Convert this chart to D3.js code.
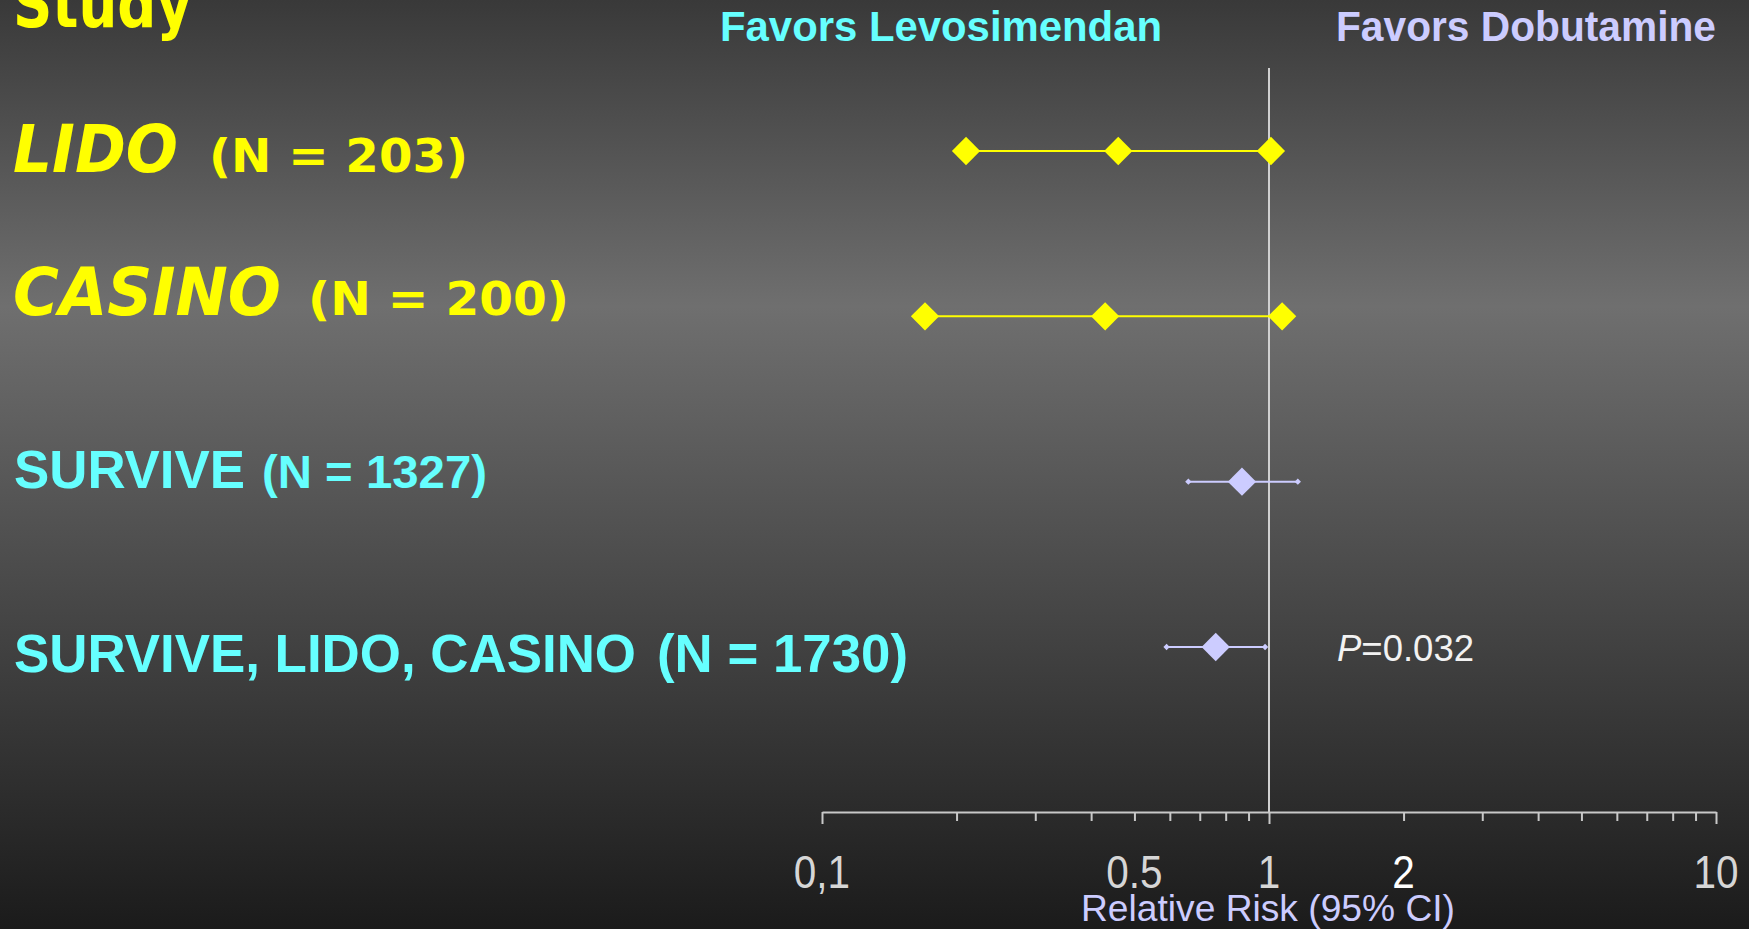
<!DOCTYPE html>
<html>
<head>
<meta charset="utf-8">
<script src="https://cdn.jsdelivr.net/npm/d3@7/dist/d3.min.js"></script>
<style>
  html, body { margin: 0; padding: 0; background: #1b1b1b; }
  svg { display: block; }
</style>
</head>
<body>
<script>
// ---- Data ----------------------------------------------------------
const studies      = ["LIDO", "CASINO", "SURVIVE", "SURVIVE, LIDO, CASINO"];
const sampleSizes  = [203, 200, 1327, 1730];
const studyKind    = ["trial", "trial", "pooled", "pooled"];
const riskPoint    = [0.46, 0.43, 0.87, 0.76];
const riskLower    = [0.21, 0.17, 0.66, 0.59];
const riskUpper    = [1.01, 1.07, 1.16, 0.98];
const pValueText   = "0.032";

const axisTickValues  = [0.1, 0.2, 0.3, 0.4, 0.5, 0.6, 0.7, 0.8, 0.9, 1, 2, 3, 4, 5, 6, 7, 8, 9, 10];
const majorTickValues = [0.1, 1, 10];
const tickLabelValues = [0.1, 0.5, 1, 2, 10];
const tickLabels      = ["0,1", "0.5", "1", "2", "10"];

// ---- Layout --------------------------------------------------------
const W = 1749, H = 929;
const axisY = 812, refLineTop = 68;
const YELLOW = "#ffff00", CYAN = "#66ffff", LAVENDER = "#ccccff";

const svg = d3.select("body").append("svg")
  .attr("width", W).attr("height", H);

// background: dark / light / dark vertical gradient
const defs = svg.append("defs");
const grad = defs.append("linearGradient")
  .attr("id", "bg").attr("x1", 0).attr("y1", 0).attr("x2", 0).attr("y2", 1);
[[0, "#393939"], [0.33, "#6f6f6f"], [1, "#1b1b1b"]].forEach(([o, c]) =>
  grad.append("stop").attr("offset", o).attr("stop-color", c));
svg.append("rect").attr("width", W).attr("height", H).attr("fill", "url(#bg)");

const x = d3.scaleLog().domain([0.1, 10]).range([822, 1716]);
const y = d3.scalePoint().domain(studies).range([151, 647]);

// ---- Headers -------------------------------------------------------
const comic = "'Comic Sans MS', 'DejaVu Sans', sans-serif";
const arial = "Arial, 'Liberation Sans', sans-serif";

svg.append("text")
  .attr("x", 13).attr("y", 27)
  .attr("font-family", comic).attr("font-weight", "bold").attr("font-size", 66)
  .attr("textLength", 179).attr("lengthAdjust", "spacingAndGlyphs")
  .attr("fill", YELLOW).text("Study");

svg.append("text")
  .attr("x", 720).attr("y", 41)
  .attr("font-family", arial).attr("font-weight", "bold").attr("font-size", 42)
  .attr("textLength", 442).attr("lengthAdjust", "spacingAndGlyphs")
  .attr("fill", CYAN).text("Favors Levosimendan");

svg.append("text")
  .attr("x", 1336).attr("y", 41)
  .attr("font-family", arial).attr("font-weight", "bold").attr("font-size", 42)
  .attr("textLength", 380).attr("lengthAdjust", "spacingAndGlyphs")
  .attr("fill", LAVENDER).text("Favors Dobutamine");

// ---- Study labels ---------------------------------------------------
const labelLayout = [
  { base: 172, nameX: 13, nameW: 165, nameSize: 66, nX: 209, nW: 259, nSize: 47 },
  { base: 315, nameX: 13, nameW: 268, nameSize: 66, nX: 308, nW: 261, nSize: 47 },
  { base: 488, nameX: 14, nameW: 231, nameSize: 53, nX: 262, nW: 225, nSize: 47 },
  { base: 672, nameX: 14, nameW: 622, nameSize: 53, nX: 657, nW: 251, nSize: 53 }
];

studies.forEach((s, i) => {
  const L = labelLayout[i];
  const isTrial = studyKind[i] === "trial";
  const g = svg.append("g").attr("fill", isTrial ? YELLOW : CYAN)
    .attr("font-weight", "bold")
    .attr("font-family", isTrial ? comic : arial);
  g.append("text")
    .attr("x", L.nameX).attr("y", L.base)
    .attr("font-size", L.nameSize)
    .attr("font-style", isTrial ? "italic" : "normal")
    .attr("textLength", L.nameW).attr("lengthAdjust", "spacingAndGlyphs")
    .text(s);
  g.append("text")
    .attr("x", L.nX).attr("y", L.base)
    .attr("font-size", L.nSize)
    .attr("textLength", L.nW).attr("lengthAdjust", "spacingAndGlyphs")
    .text(`(N = ${sampleSizes[i]})`);
});

// ---- Reference line at RR = 1 ----------------------------------------
svg.append("line")
  .attr("x1", x(1)).attr("x2", x(1))
  .attr("y1", refLineTop).attr("y2", axisY)
  .attr("stroke", "#d0d0d0").attr("stroke-width", 2);

// ---- Axis ----------------------------------------------------------
const axisG = svg.append("g")
  .attr("transform", `translate(0,${axisY})`)
  .call(d3.axisBottom(x).tickValues(axisTickValues)
    .tickSize(9).tickSizeOuter(0).tickFormat(""));
axisG.select(".domain").attr("stroke", "#c8c8c8").attr("stroke-width", 2);
axisG.selectAll(".tick line")
  .attr("stroke", "#c8c8c8").attr("stroke-width", 2)
  .attr("y2", d => majorTickValues.includes(d) ? 12 : 9);

// tick labels: slightly condensed, tall sans digits
svg.append("g").selectAll("text")
  .data(tickLabelValues)
  .join("text")
  .attr("transform", d => `translate(${x(d)},888) scale(0.88,1)`)
  .attr("text-anchor", "middle")
  .attr("font-family", arial).attr("font-size", 46)
  .attr("fill", d => d === 2 ? "#ffffff" : "#d6d6d6")
  .text((d, i) => tickLabels[i]);

svg.append("text")
  .attr("x", 1081).attr("y", 921)
  .attr("font-family", arial).attr("font-size", 37)
  .attr("textLength", 374).attr("lengthAdjust", "spacingAndGlyphs")
  .attr("fill", LAVENDER).text("Relative Risk (95% CI)");

// ---- Forest marks ----------------------------------------------------
const bigDiamond = d3.symbol().type(d3.symbolSquare).size(400)();
const smallDiamond = d3.symbol().type(d3.symbolSquare).size(20)();

studies.forEach((s, i) => {
  const isTrial = studyKind[i] === "trial";
  const color = isTrial ? YELLOW : LAVENDER;
  const g = svg.append("g").attr("transform", `translate(0,${y(s)})`);
  g.append("line")
    .attr("x1", x(riskLower[i])).attr("x2", x(riskUpper[i]))
    .attr("stroke", color).attr("stroke-width", 2);
  const marks = [
    { v: riskLower[i], big: isTrial },
    { v: riskPoint[i], big: true },
    { v: riskUpper[i], big: isTrial }
  ];
  g.selectAll("path").data(marks).join("path")
    .attr("d", d => d.big ? bigDiamond : smallDiamond)
    .attr("transform", d => `translate(${x(d.v)},0) rotate(45)`)
    .attr("fill", color);
});

// ---- Pooled p-value ----------------------------------------------------
const pText = svg.append("text")
  .attr("x", 1337).attr("y", 661)
  .attr("font-family", arial).attr("font-size", 36.5)
  .attr("fill", "#f2f2f2");
pText.append("tspan").attr("font-style", "italic").text("P");
pText.append("tspan").text("=" + pValueText);
</script>
</body>
</html>
